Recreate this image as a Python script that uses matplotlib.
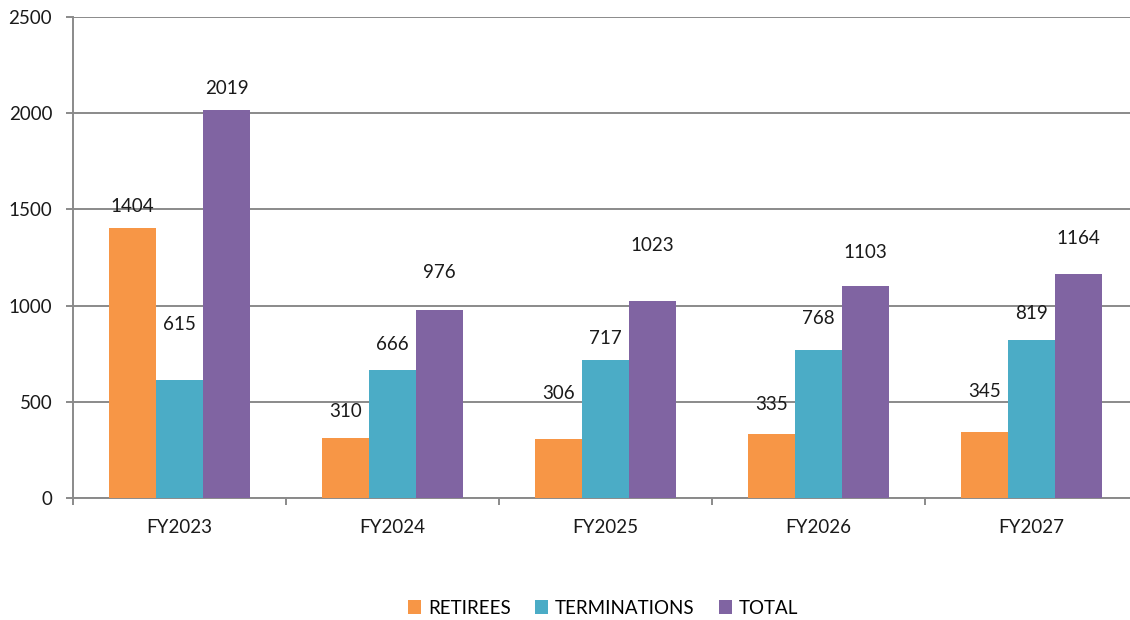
import numpy as np
import matplotlib.pyplot as plt
from matplotlib.ticker import FixedLocator

# data
years = ["FY2023", "FY2024", "FY2025", "FY2026", "FY2027"]
retirees = [1404, 310, 306, 335, 345]
terminations = [615, 666, 717, 768, 819]
total = [2019, 976, 1023, 1103, 1164]

series = ["RETIREES", "TERMINATIONS", "TOTAL"]
colors = ["#F79646", "#4BACC6", "#8064A2"]
# label distance above each bar (pixels), as placed in the original
label_pad = [[21, 27, 46, 29, 40],
             [55, 25, 22, 32, 27],
             [21, 38, 56, 33, 36]]

plt.rcParams['font.family'] = ['Lato', 'DejaVu Sans']
fs = 13.5

fig = plt.figure(figsize=(11.3, 6.2), dpi=100)
ax = fig.add_axes([73/1130, 1-498/620, 1065/1130, 481/620])

x = np.arange(len(years))
w = 0.221
values = [retirees, terminations, total]
for i, (name, vals) in enumerate(zip(series, values)):
    pos = x + (i-1)*w
    ax.bar(pos, vals, w, color=colors[i], label=name, zorder=3)
    for p, v, pad in zip(pos, vals, label_pad[i]):
        ax.annotate(str(v), (p, v), xytext=(0, pad*0.72), textcoords="offset points",
                    ha="center", va="center", fontsize=fs, color="#1a1a1a", zorder=4)

ax.set_xlim(-0.5, len(years)-0.5)
ax.set_ylim(0, 2500)
ax.set_yticks(range(0, 2501, 500))
ax.yaxis.grid(True, color="#8a8a8a", linewidth=1.4, zorder=0)
ax.set_axisbelow(True)

ax.set_xticks(x)
ax.set_xticklabels(years, fontsize=fs, color="#1a1a1a")
ax.xaxis.set_minor_locator(FixedLocator(np.arange(-0.5, len(years), 1)))
ax.tick_params(axis="x", which="major", length=0, pad=15)
ax.tick_params(axis="x", which="minor", length=5, width=1.4, color="#8a8a8a")
ax.tick_params(axis="y", length=5, width=1.4, color="#8a8a8a", labelsize=fs,
               labelcolor="#1a1a1a", pad=10)

for s in ["top", "right"]:
    ax.spines[s].set_visible(False)
for s in ["left", "bottom"]:
    ax.spines[s].set_color("#8a8a8a")
    ax.spines[s].set_linewidth(1.4)

fig.legend(loc="center", bbox_to_anchor=(603/1130, 1-608/620), ncol=3, frameon=False,
           fontsize=fs, handlelength=0.7, handleheight=0.7, handletextpad=0.35,
           columnspacing=1.3)

fig.savefig("out.png", dpi=100)
